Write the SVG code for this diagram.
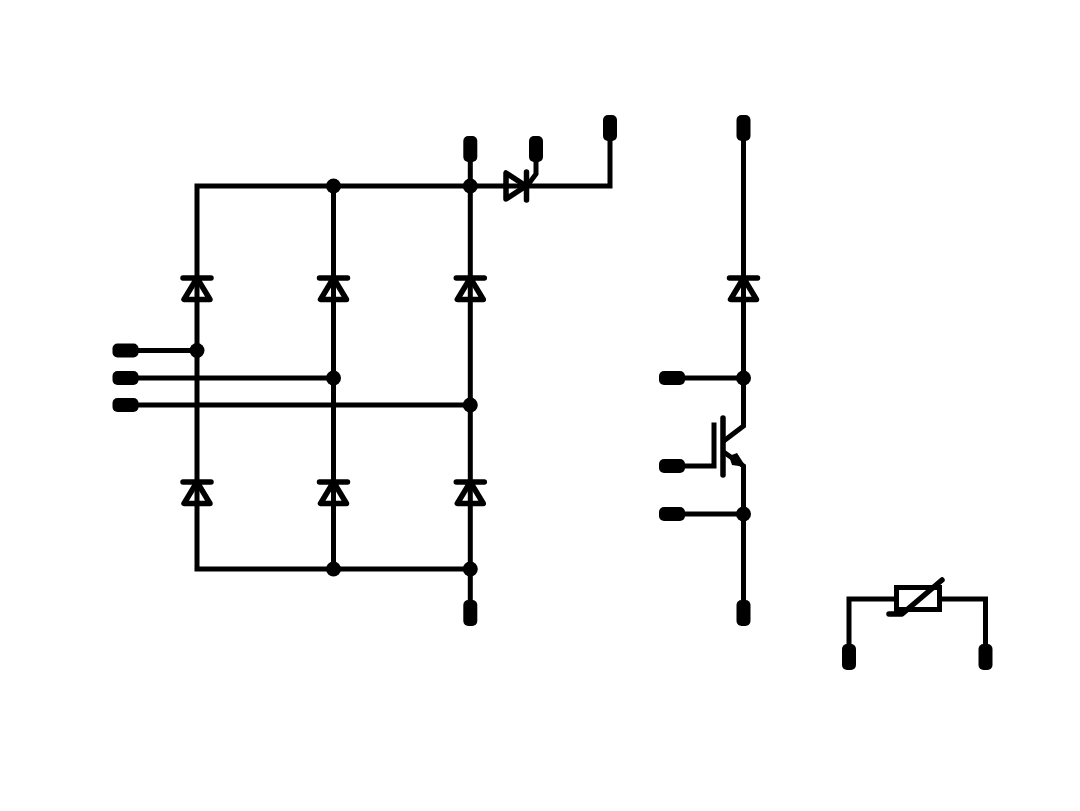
<svg xmlns="http://www.w3.org/2000/svg" width="1080" height="811" viewBox="0 0 1080 811">
<defs>
<style>
.w{fill:none;stroke:#000;stroke-width:5;stroke-linecap:square;stroke-linejoin:miter}
.s{fill:none;stroke:#000;stroke-width:5.500;stroke-linecap:round;stroke-linejoin:round}
.b{fill:#000;stroke:none}
</style>
<rect id="pv" x="-7" y="-13" width="14" height="26" rx="5" class="b"/>
<rect id="ph" x="-13" y="-7" width="26" height="14" rx="5" class="b"/>
<g id="d"><path class="s" d="M-14,-11H14M0,-11L-13,10.500H13Z"/></g>
</defs>
<rect width="1080" height="811" fill="#fff"/>
<g id="connectors">
<path class="w" d="M470.300,149V569M470.300,569V613M197,186H610V128M197,186V569H470M333.500,186V569"/>
<path class="w" d="M125,350.500H197M125,378H333.500M125,405H470"/>
<path class="w" d="M536,149V174L527,186"/>
<path class="w" d="M743.500,128V426L725,440M725,453L743.500,466V613M672,378H743.500M672,514H743.500M672,466H714V425"/>
<path class="w" d="M849,657V599H896M940,599H985.500V657"/>
</g>
<g id="dots">
<circle class="b" cx="333.500" cy="186" r="7.500"/><circle class="b" cx="470.300" cy="186" r="7.500"/>
<circle class="b" cx="197" cy="350.500" r="7.500"/><circle class="b" cx="333.500" cy="378" r="7.500"/><circle class="b" cx="470.300" cy="405" r="7.500"/>
<circle class="b" cx="333.500" cy="569" r="7.500"/><circle class="b" cx="470.300" cy="569" r="7.500"/>
<circle class="b" cx="743.500" cy="378" r="7.500"/><circle class="b" cx="743.500" cy="514" r="7.500"/>
</g>
<g id="diodes">
<use href="#d" x="197" y="289"/><use href="#d" x="333.500" y="289"/><use href="#d" x="470.300" y="289"/>
<use href="#d" x="197" y="493"/><use href="#d" x="333.500" y="493"/><use href="#d" x="470.300" y="493"/>
<use href="#d" x="743.500" y="289"/>
</g>
<g id="thyristor">
<path class="s" d="M506,173V199L526,186Z" style="fill:#fff"/>
<path class="w" d="M506,186H526"/>
<path class="s" d="M526.500,172V200"/>
</g>
<g id="igbt">
<path class="s" d="M723,418V475"/>
<path class="b" d="M729,456L737,453L746,467L732,465Z"/>
</g>
<g id="varistor">
<rect x="896.500" y="587.500" width="43" height="22" fill="#fff" stroke="#000" stroke-width="5"/>
<path class="s" d="M889,614H902L942,580"/>
</g>
<g id="terminals">
<use href="#pv" x="470.300" y="149"/><use href="#pv" x="536" y="149"/><use href="#pv" x="610" y="128"/><use href="#pv" x="743.500" y="128"/>
<use href="#pv" x="470.300" y="613"/><use href="#pv" x="743.500" y="613"/><use href="#pv" x="849" y="657"/><use href="#pv" x="985.500" y="657"/>
<use href="#ph" x="125.500" y="350.500"/><use href="#ph" x="125.500" y="378"/><use href="#ph" x="125.500" y="405"/>
<use href="#ph" x="672" y="378"/><use href="#ph" x="672" y="466"/><use href="#ph" x="672" y="514"/>
</g>
</svg>
